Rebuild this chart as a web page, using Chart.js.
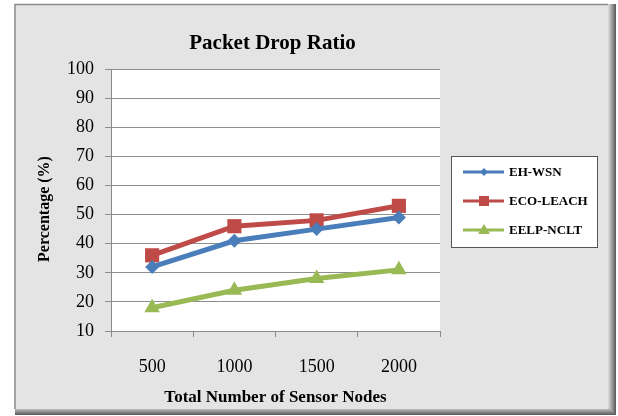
<!DOCTYPE html>
<html>
<head>
<meta charset="utf-8">
<script src="https://cdn.jsdelivr.net/npm/chart.js@4.4.6/dist/chart.umd.min.js"></script>
<style>
  html, body { margin: 0; padding: 0; background: #ffffff; }
  #caja { position: relative; width: 618px; height: 416px; }
</style>
</head>
<body>
<div id="caja"><canvas id="graficaDrop" width="618" height="416"></canvas></div>
<script>
const nodos = ["500", "1000", "1500", "2000"];
const ehWsn = [32, 41, 45, 49];
const ecoLeach = [36, 46, 48, 53];
const eelpNclt = [18, 24, 28, 31];
const nombres = ["EH-WSN", "ECO-LEACH", "EELP-NCLT"];
const titulo = "Packet Drop Ratio";
const tituloY = "Percentage (%)";

const azul = '#4a7ebb';
const rojo = '#be4b48';
const verde = '#98b954';

// fondo gris, marco y area blanca
const marco = {
    id: 'marco',
    beforeDraw(chart) {
        const ctx = chart.ctx;
        const a = chart.chartArea;
        ctx.save();
        ctx.fillStyle = '#ffffff';
        ctx.fillRect(0, 0, 618, 416);
        // sombra derecha / abajo
        for (let i = 0; i < 8; i++) {
            const g = 95 + i * 17;
            ctx.fillStyle = `rgb(${g},${g},${g})`;
            ctx.fillRect(15, 4, 601 - i, 411 - i);
        }
        ctx.fillStyle = '#e4e4e4';
        ctx.fillRect(15, 4, 593, 405);
        ctx.strokeStyle = '#8a8a8a';
        ctx.lineWidth = 1.5;
        ctx.beginPath();
        ctx.moveTo(15, 409);
        ctx.lineTo(15, 4.5);
        ctx.lineTo(608, 4.5);
        ctx.stroke();
        ctx.fillStyle = '#ffffff';
        ctx.fillRect(a.left, a.top, a.right - a.left, a.bottom - a.top);
        ctx.restore();
    },
    afterDraw(chart) {
        const ctx = chart.ctx;
        const a = chart.chartArea;
        ctx.save();
        // titulo
        ctx.fillStyle = '#000000';
        ctx.font = 'bold 21px "Liberation Serif"';
        ctx.textAlign = 'center';
        ctx.textBaseline = 'middle';
        ctx.fillText(titulo, (a.left + a.right) / 2 - 3, 44);

        // titulo eje y
        ctx.save();
        ctx.translate(45, 209);
        ctx.rotate(-Math.PI / 2);
        ctx.font = 'bold 16px "Liberation Serif"';
        ctx.fillText(tituloY, 0, 0);
        ctx.restore();

        // leyenda
        ctx.fillStyle = '#ffffff';
        ctx.fillRect(451, 156, 146, 91);
        ctx.strokeStyle = '#555555';
        ctx.lineWidth = 1;
        ctx.strokeRect(451.5, 156.5, 146, 91);
        const ys = [172, 201, 230];
        chart.data.datasets.forEach((ds, i) => {
            const y = ys[i];
            ctx.strokeStyle = ds.borderColor;
            ctx.lineWidth = 3;
            ctx.beginPath();
            ctx.moveTo(463, y);
            ctx.lineTo(504, y);
            ctx.stroke();
            ctx.fillStyle = ds.backgroundColor;
            ctx.beginPath();
            if (ds.pointStyle === 'rectRot') {
                ctx.moveTo(484, y - 4); ctx.lineTo(488, y); ctx.lineTo(484, y + 4); ctx.lineTo(480, y);
            } else if (ds.pointStyle === 'rect') {
                ctx.rect(479, y - 5, 10, 10);
            } else {
                ctx.moveTo(484, y - 6); ctx.lineTo(490, y + 4); ctx.lineTo(478, y + 4);
            }
            ctx.closePath();
            ctx.fill();
            ctx.fillStyle = '#000000';
            ctx.font = 'bold 13px "Liberation Serif"';
            ctx.textAlign = 'left';
            ctx.fillText(ds.label, 509, y + 1);
        });
        ctx.restore();
    }
};

new Chart(document.getElementById('graficaDrop').getContext('2d'), {
    type: 'line',
    data: {
        labels: nodos,
        datasets: [
            {
                label: nombres[0],
                data: ehWsn,
                borderColor: azul,
                backgroundColor: azul,
                borderWidth: 5,
                pointStyle: 'rectRot',
                pointRadius: 7,
                pointBorderWidth: 0
            },
            {
                label: nombres[1],
                data: ecoLeach,
                borderColor: rojo,
                backgroundColor: rojo,
                borderWidth: 5,
                pointStyle: 'rect',
                pointRadius: 10,
                pointBorderWidth: 0
            },
            {
                label: nombres[2],
                data: eelpNclt,
                borderColor: verde,
                backgroundColor: verde,
                borderWidth: 5,
                pointStyle: 'triangle',
                pointRadius: 9,
                pointBorderWidth: 0
            }
        ]
    },
    options: {
        responsive: false,
        animation: false,
        layout: { padding: { left: 20, right: 178, top: 69, bottom: 0 } },
        plugins: {
            legend: { display: false },
            title: { display: false },
            tooltip: { enabled: false }
        },
        scales: {
            x: {
                offset: true,
                afterFit(scale) { scale.height = 85; },
                grid: { drawOnChartArea: false, drawTicks: true, tickLength: 6, color: '#8a8a8a', offset: true },
                border: { color: '#8a8a8a', width: 1 },
                ticks: { color: '#000000', padding: 19, font: { family: '"Liberation Serif"', size: 18 } },
                title: {
                    display: true,
                    text: 'Total Number of Sensor Nodes',
                    color: '#000000',
                    font: { family: '"Liberation Serif"', size: 17, weight: 'bold' },
                    padding: { top: 0, bottom: 8 }
                }
            },
            y: {
                min: 10,
                max: 100,
                afterFit(scale) { scale.width = 91; },
                grid: { color: '#8e8e8e', tickLength: 6, lineWidth: 1 },
                border: { color: '#8a8a8a', width: 1 },
                ticks: { stepSize: 10, color: '#000000', padding: 11, font: { family: '"Liberation Serif"', size: 18 } },
                title: { display: false }
            }
        }
    },
    plugins: [marco]
});
</script>
</body>
</html>
